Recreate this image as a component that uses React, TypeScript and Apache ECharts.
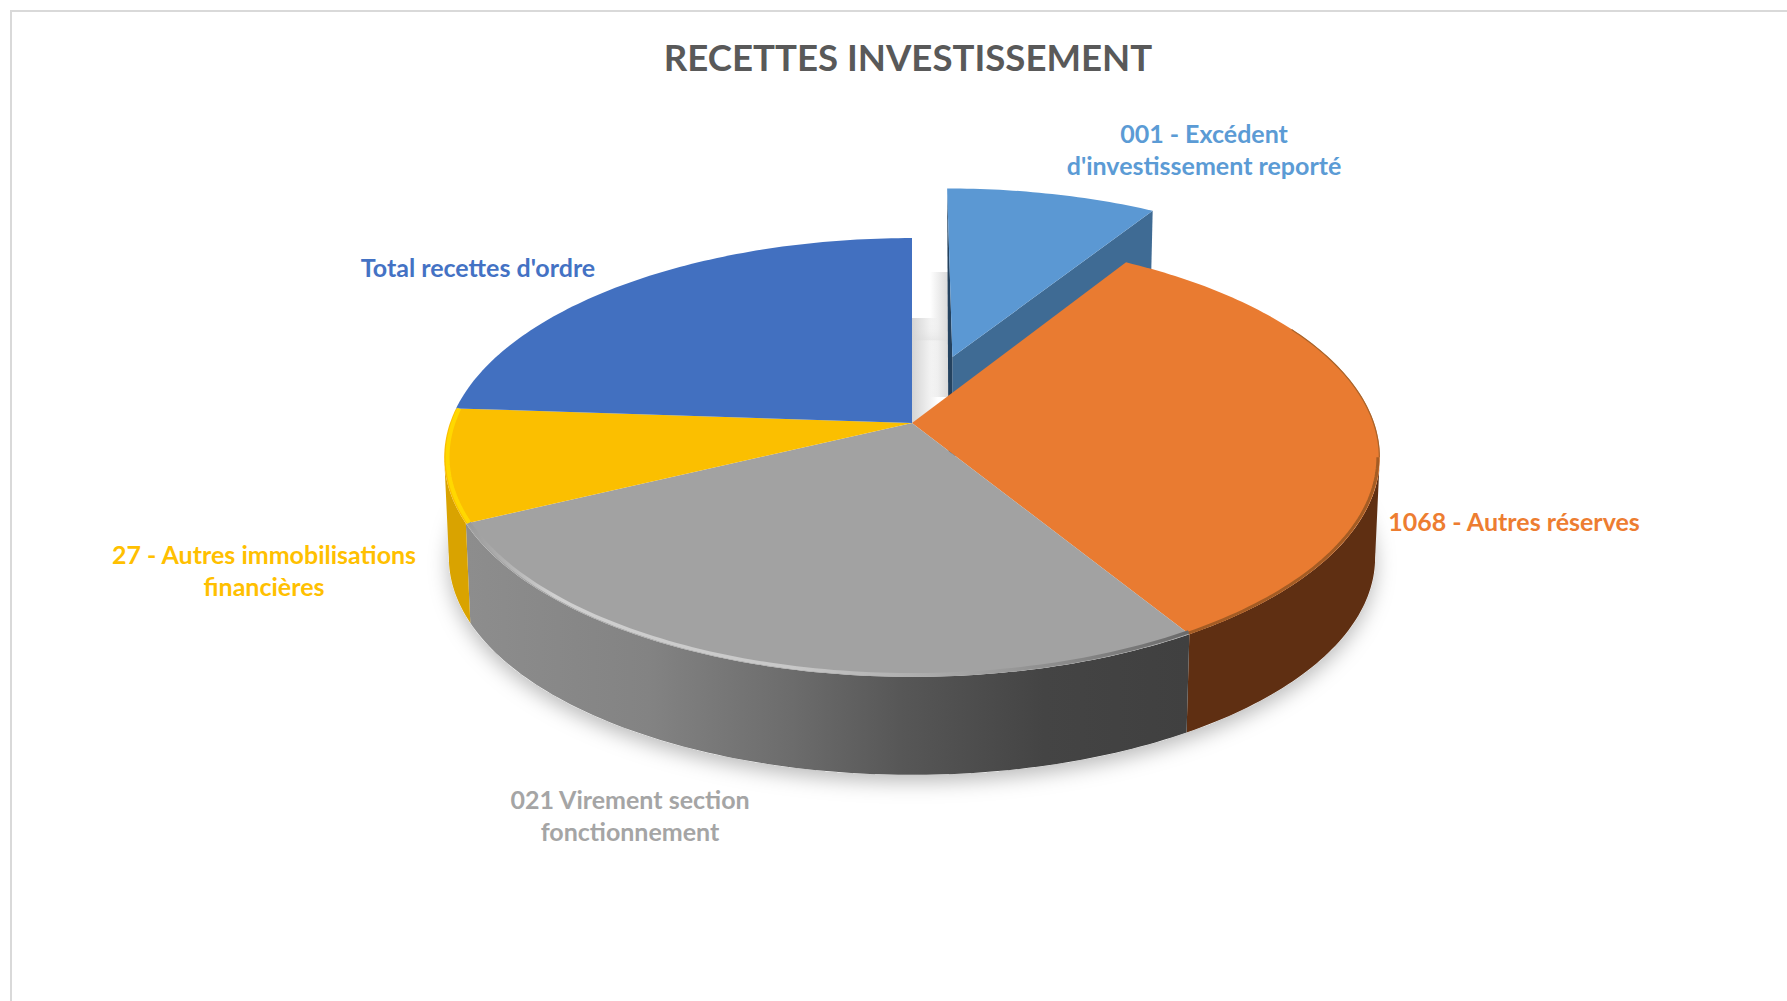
import React, { useEffect, useRef } from "react";
import * as echarts from "echarts";

const chartTitle = "RECETTES INVESTISSEMENT";
const categories = [
  "001 - Excédent\nd'investissement reporté",
  "1068 - Autres réserves",
  "021 Virement section\nfonctionnement",
  "27 - Autres immobilisations\nfinancières",
  "Total recettes d'ordre",
];
const values = [8.8, 32.5, 26.5, 8.3, 23.9];
const topColors = ["#5b98d3", "#e97b31", "#a2a2a2", "#fbbf00", "#4270c0"];
const labelColors = ["#5b9bd5", "#ed7d31", "#a5a5a5", "#ffc000", "#4472c4"];
const labelCenters = [
  [1204, 149],
  [1514, 521],
  [630, 815],
  [264, 570],
  [478, 267],
];

const FONT = "Lato";
const W = 1787;
const H = 1001;
const CX = 912;
const CY = 423;
const A = 462;
const B = 214;
const PERSP = -0.157;
const DEPTH = 100.5;
const SHRINK = 0.99;
const EXPLODE = 0.3365;
// clockwise angles at which the rim reaches its widest point on screen
const RIGHT_EXTREME = 99;
const LEFT_EXTREME = 261;

const total = values.reduce((s, v) => s + v, 0);
const starts: number[] = [];
values.reduce((acc, v, i) => {
  starts[i] = acc;
  return acc + (v / total) * 360;
}, 0);

type Off = [number, number];
const project = (u: number, v: number, bottom: boolean): number[] => {
  const w = 1 + PERSP * v;
  return bottom
    ? [CX + (SHRINK * A * u) / w, CY + DEPTH + (SHRINK * B * v) / w]
    : [CX + (A * u) / w, CY + (B * v) / w];
};
const rimPoint = (deg: number, r: number, bottom: boolean, off: Off) => {
  const t = (deg * Math.PI) / 180;
  return project(r * Math.sin(t) + off[0], -r * Math.cos(t) + off[1], bottom);
};
const arc = (a0: number, a1: number, r: number, bottom: boolean, off: Off) => {
  const n = Math.max(4, Math.ceil(Math.abs(a1 - a0)));
  const out: number[][] = [];
  for (let i = 0; i <= n; i++) out.push(rimPoint(a0 + ((a1 - a0) * i) / n, r, bottom, off));
  return out;
};
const hGrad = (x0: number, x1: number, stops: [number, string][]) =>
  new echarts.graphic.LinearGradient(x0, 0, x1, 0, stops.map(([offset, color]) => ({ offset, color })), true);

const grayWall = () =>
  hGrad(468, 1188, [
    [0, "#8d8d8d"],
    [0.25, "#838383"],
    [0.45, "#6c6c6c"],
    [0.6, "#575757"],
    [0.8, "#444444"],
    [1, "#404040"],
  ]);

const renderSlice = (params: any, api: any) => {
  const i = params.dataIndex as number;
  const sweep = (api.value(0) / total) * 360;
  const a0 = starts[i];
  const a1 = a0 + sweep;
  const kids: any[] = [];
  const silent = true;

  if (i === 0) {
    // soft shadow below the whole pie
    kids.push({
      type: "polygon",
      z2: 1,
      silent,
      shape: { points: arc(0, 360, 1, true, [0, 0]) },
      style: {
        fill: "#ffffff",
        shadowColor: "rgba(0,0,0,0.27)",
        shadowBlur: 20,
        shadowOffsetX: 0,
        shadowOffsetY: 7,
      },
    });
    kids.push({
      type: "rect",
      z2: 2,
      silent,
      shape: { x: 912, y: 318, width: 26, height: 105 },
      style: { fill: hGrad(912, 938, [[0, "rgba(212,212,212,1)"], [1, "rgba(212,212,212,0)"]]) },
    });
    kids.push({
      type: "rect",
      z2: 3,
      silent,
      shape: { x: 930, y: 272, width: 18, height: 125 },
      style: { fill: hGrad(930, 948, [[0, "rgba(218,218,218,0)"], [1, "rgba(218,218,218,1)"]]) },
    });
    const mid = (((a0 + a1) / 2) * Math.PI) / 180;
    const off: Off = [EXPLODE * Math.sin(mid), -EXPLODE * Math.cos(mid)];
    const apexTop = project(off[0], off[1], false);
    const apexBot = project(off[0], off[1], true);
    const leftTop = rimPoint(a0, 1, false, off);
    const rightTop = rimPoint(a1, 1, false, off);
    const rightBot = rimPoint(a1, 1, true, off);
    kids.push({
      type: "polygon",
      z2: 5,
      silent,
      shape: { points: [apexTop, rightTop, rightBot, apexBot] },
      style: { fill: "#3f6b94" },
    });
    kids.push({
      type: "polygon",
      z2: 6,
      silent,
      shape: { points: [leftTop, apexTop, apexBot, [apexBot[0] - 3.5, apexBot[1]]] },
      style: { fill: "#24425f" },
    });
    kids.push({
      type: "polygon",
      z2: 7,
      silent,
      shape: { points: [apexTop, ...arc(a0, a1, 1, false, off)] },
      style: { fill: topColors[i] },
    });
    return { type: "group", children: kids };
  }

  const off: Off = [0, 0];
  const wallFill: any = i === 1 ? "#5f2f12" : i === 2 ? grayWall() : "#d9a300";
  const w0 = Math.max(a0, RIGHT_EXTREME);
  const w1 = Math.min(a1, LEFT_EXTREME);
  if (w1 > w0) {
    kids.push({
      type: "polygon",
      z2: 10,
      silent,
      shape: { points: [...arc(w0, w1, 1, false, off), ...arc(w1, w0, 1, true, off)] },
      style: { fill: wallFill },
    });
  }
  kids.push({
    type: "polygon",
    z2: 20,
    silent,
    shape: { points: [project(0, 0, false), ...arc(a0, a1, 1, false, off)] },
    style: { fill: topColors[i] },
  });
  if (i === 1) {
    kids.push({
      type: "polyline",
      z2: 21,
      silent,
      shape: { points: arc(62, RIGHT_EXTREME, 0.999, false, off) },
      style: { fill: "none", lineWidth: 1.2, stroke: "#a8642b" },
    });
    kids.push({
      type: "polyline",
      z2: 21,
      silent,
      shape: { points: arc(RIGHT_EXTREME, a1, 0.996, false, off) },
      style: { fill: "none", lineWidth: 3, stroke: "#a45c24" },
    });
  } else if (i === 2) {
    kids.push({
      type: "polyline",
      z2: 21,
      silent,
      shape: { points: arc(a0 - 0.2, a1, 0.993, false, off) },
      style: {
        fill: "none",
        lineWidth: 3.5,
        stroke: hGrad(468, 1188, [
          [0, "#9a9a9a"],
          [0.12, "#d0d0d0"],
          [0.45, "#c8c8c8"],
          [0.7, "#a2a2a2"],
          [1, "#6a6a6a"],
        ]),
      },
    });
  } else if (i === 3) {
    kids.push({
      type: "polyline",
      z2: 21,
      silent,
      shape: { points: arc(a0, a1, 0.993, false, off) },
      style: { fill: "none", lineWidth: 4, stroke: "#ffd800" },
    });
  }
  return { type: "group", children: kids };
};

const labelElements = categories.map((c, i) => ({
  type: "text",
  silent: true,
  x: labelCenters[i][0],
  y: labelCenters[i][1],
  z: 10,
  style: {
    text: c,
    fill: labelColors[i],
    fontFamily: FONT,
    fontWeight: "bold",
    fontSize: 25,
    lineHeight: 32.5,
    align: "center",
    verticalAlign: "middle",
  },
}));

const frameElements = [
  { type: "rect", silent: true, z: 0, shape: { x: 10, y: 10, width: W - 10, height: 2 }, style: { fill: "#d9d9d9" } },
  { type: "rect", silent: true, z: 0, shape: { x: 10, y: 10, width: 2, height: H - 10 }, style: { fill: "#d9d9d9" } },
];

export default function App() {
  const ref = useRef<HTMLDivElement>(null);
  useEffect(() => {
    document.body.style.margin = "0";
    const chart = echarts.init(ref.current!, undefined, { renderer: "svg" });
    chart.setOption({
      animation: false,
      backgroundColor: "#ffffff",
      title: {
        text: chartTitle,
        left: 903,
        top: 33,
        textAlign: "center",
        textStyle: { color: "#595959", fontFamily: FONT, fontWeight: "bold", fontSize: 36.6 },
      },
      graphic: { elements: [...frameElements, ...labelElements] },
      series: [
        {
          type: "custom",
          coordinateSystem: "none",
          silent: true,
          renderItem: renderSlice,
          data: values.map((v, i) => ({ name: categories[i], value: [v] })),
          clip: false,
        },
      ],
    });
    return () => chart.dispose();
  }, []);
  return <div ref={ref} style={{ position: "absolute", left: 0, top: 0, width: W, height: H }} />;
}
